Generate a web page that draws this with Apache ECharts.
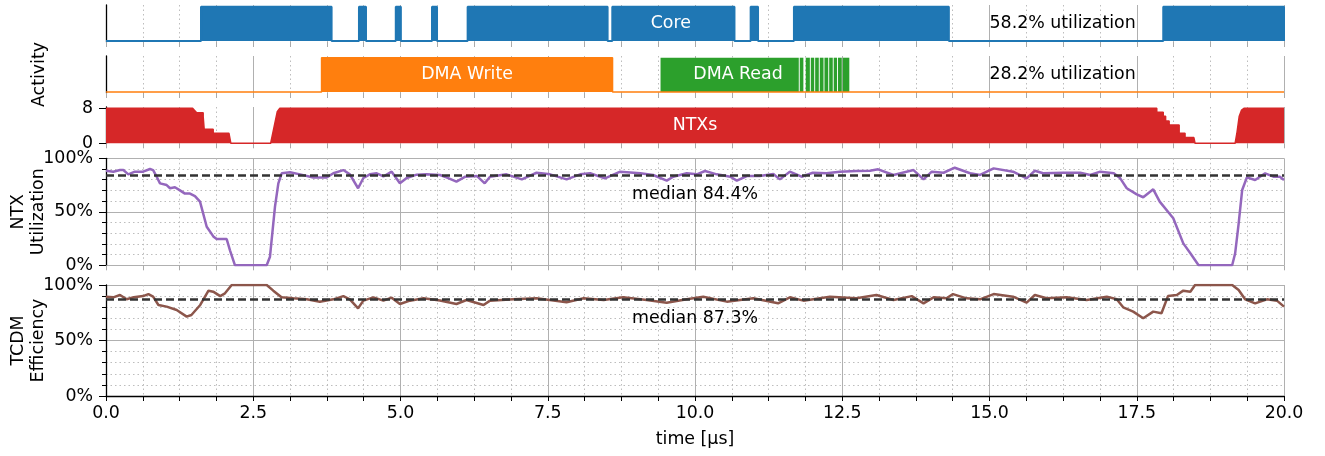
<!DOCTYPE html>
<html>
<head>
<meta charset="utf-8">
<title>Cluster activity</title>
<script src="https://cdn.jsdelivr.net/npm/echarts@6/dist/echarts.min.js"></script>
<style>
    html, body { margin: 0; padding: 0; background: #fff; }
    #chart { width: 1325px; height: 456px; }
</style>
</head>
<body>
<div id="chart"></div>
<script>
// busy intervals [start, end] in µs
const coreIntervals = [[1.613, 3.83], [4.295, 4.414], [4.92, 5.006], [5.535, 5.62], [6.14, 8.516],
    [8.596, 10.67], [10.945, 11.07], [11.68, 14.31], [17.95, 20]]
const dmaWriteIntervals = [[3.66, 8.60]]
const dmaReadIntervals = [[9.415, 11.762], [11.778, 11.84], [11.88, 11.95], [11.966, 12.024], [12.04, 12.102],
    [12.118, 12.182], [12.198, 12.262], [12.278, 12.339], [12.355, 12.412], [12.428, 12.492], [12.508, 12.62]]

// number of active NTXs
const ntxTime = [0, 1.47, 1.54, 1.65, 1.65, 1.667, 1.667, 1.82, 1.82, 2.087, 2.12, 2.795, 2.907, 2.952,
    17.84, 17.84, 17.95, 17.95, 17.99, 17.99, 18.05, 18.05, 18.22, 18.22, 18.32, 18.32, 18.47, 18.49,
    19.17, 19.2, 19.24, 19.28, 19.32, 20]
const ntxCount = [8, 8, 7, 7, 6.1, 6.1, 3.2, 3.2, 2.3, 2.3, 0, 0, 7.2, 8,
    8, 7.1, 7.1, 6.2, 6.2, 5.1, 5.1, 4.2, 4.2, 2.3, 2.3, 1.3, 1.3, 0,
    0, 2.3, 6.2, 7.6, 8, 8]
const ntxTicks = [0, 8]

// NTX utilization [%]
const utilTime = [0, 0.124, 0.238, 0.294, 0.379, 0.49, 0.63, 0.747, 0.80, 0.86, 0.917, 1.03, 1.087, 1.17,
    1.256, 1.34, 1.426, 1.51, 1.596, 1.71, 1.822, 1.879, 2.049, 2.105, 2.19, 2.728, 2.784, 2.869, 2.926,
    2.983, 3.124, 3.294, 3.52, 3.747, 3.86, 4.03, 4.14, 4.28, 4.37, 4.48, 4.596, 4.71, 4.85, 4.99, 5.105,
    5.275, 5.44, 5.67, 5.78, 5.95, 6.1, 6.3, 6.43, 6.52, 6.8, 7.06, 7.31, 7.54, 7.82, 8.05, 8.22, 8.47,
    8.73, 9.07, 9.29, 9.52, 9.63, 9.86, 10.03, 10.17, 10.37, 10.6, 10.71, 10.88, 11.1, 11.33, 11.44,
    11.61, 11.81, 12.0, 12.23, 12.46, 12.74, 12.97, 13.11, 13.37, 13.71, 13.88, 14.02, 14.22, 14.41,
    14.67, 14.84, 15.07, 15.4, 15.63, 15.77, 15.91, 16.25, 16.54, 16.71, 16.88, 17.11, 17.22, 17.33,
    17.5, 17.61, 17.78, 17.89, 18.12, 18.29, 18.41, 18.55, 19.12, 19.17, 19.23, 19.29, 19.37, 19.51,
    19.68, 19.82, 19.93, 20.0]
const utilPct = [88.4, 87.5, 89, 89, 85, 87.5, 87.5, 90, 89, 82.8, 76.6, 75, 72, 73,
    70, 67, 67, 64.7, 59.5, 36, 27, 24.5, 24.5, 14, 0, 0, 8, 54.8, 76.6,
    86, 87, 85, 82, 82, 86, 89, 85, 72, 81.6, 85, 86, 83, 87.5, 76.6, 81.6,
    84.7, 85, 84.4, 82.2, 78.2, 82.8, 83.4, 76.6, 82.8, 85, 80.3, 86.5, 85, 80.3, 85, 86, 81.3,
    87.5, 86, 84.4, 79.1, 82.8, 86, 85, 88.1, 85, 82.8, 79.1, 83.4, 83.4, 85.3, 80.3,
    87.5, 82.8, 86.5, 86, 87.5, 88.1, 88.4, 89.7, 84.4, 89, 80.3, 87.5, 86.5, 91.2,
    86, 84.4, 90.6, 87.5, 81.3, 88.4, 86, 86.5, 86.5, 84.4, 87.5, 86, 81.3, 72,
    66.3, 63.6, 71, 59.5, 44, 20.5, 11.2, 0, 0, 11, 39, 70.4, 82.2, 79.7,
    86, 82.8, 82.8, 79.7]

// TCDM efficiency [%]
const effTime = [0, 0.124, 0.238, 0.35, 0.47, 0.63, 0.72, 0.80, 0.89, 1.03, 1.2, 1.37, 1.45, 1.6, 1.74,
    1.82, 1.94, 2.02, 2.134, 2.728, 2.84, 2.98, 3.18, 3.41, 3.63, 3.86, 4.03, 4.14, 4.28, 4.37, 4.54,
    4.71, 4.85, 4.99, 5.16, 5.39, 5.67, 5.95, 6.12, 6.41, 6.52, 6.92, 7.31, 7.82, 8.11, 8.45, 8.78,
    9.18, 9.52, 9.86, 10.14, 10.54, 10.99, 11.41, 11.61, 11.84, 12.29, 12.74, 13.08, 13.37, 13.68,
    13.88, 14.05, 14.27, 14.38, 14.61, 14.84, 15.07, 15.4, 15.63, 15.77, 15.97, 16.31, 16.65, 16.99,
    17.16, 17.27, 17.44, 17.61, 17.78, 17.92, 18.03, 18.18, 18.29, 18.41, 18.49, 19.12, 19.23, 19.34,
    19.51, 19.71, 19.88, 20.0]
const effPct = [89.5, 88.9, 91, 87.1, 88.9, 90, 91.8, 89.5, 82, 80.5, 77.5, 71.5, 73, 82, 94.9,
    94, 90, 92.5, 100, 100, 94.9, 88.9, 88, 87.1, 85, 87.1, 90, 87.1, 79, 85.9, 88.9,
    85.9, 88.6, 82.9, 85.9, 88, 86, 82.9, 86.5, 82, 85.9, 87.1, 88, 84.4, 88, 86.5, 88.9,
    86.5, 84.1, 87.1, 89.5, 85, 88, 83.5, 88.9, 85.9, 89.5, 88, 91, 86.5, 90,
    83.5, 88.9, 88, 91.8, 88, 87.1, 91.8, 89.5, 84.1, 91, 88, 88.9, 86.5, 89.5,
    87.1, 79.9, 76, 70, 76, 74.5, 90, 91, 94.9, 94, 100, 100, 95.5, 87.1,
    83.5, 87.1, 85.9, 80.5]

const medianUtil = 84.4
const medianEff = 87.3
const coreUtilText = '58.2% utilization'
const dmaUtilText = '28.2% utilization'

const FONT = 'DejaVu Sans'
const FS = 17.4
const GRID = '#b0b0b0'
const MINOR = '#bdbdbd'

// turn busy intervals into a 0/1 outline
function toSteps(intervals) {
    const pts = [[0, 0]]
    intervals.forEach(([a, b]) => {
        pts.push([a, 0], [a, 1], [b, 1], [b, 0])
    })
    pts.push([20, 0])
    return pts
}
const zip = (xs, ys) => xs.map((x, i) => [x, ys[i]])

function textMark(x, y, text, color, left) {
    return {
        coord: [x, y],
        symbol: 'rect',
        symbolSize: 0,
        label: {
            show: true,
            position: left ? 'right' : 'inside',
            distance: 0,
            formatter: text,
            color: color,
            fontSize: FS,
            fontFamily: FONT
        }
    }
}

const grids = [
    {top: 5, height: 37},
    {top: 56, height: 37},
    {top: 107, height: 36.3},
    {top: 158.3, height: 107},
    {top: 285, height: 111}
].map(g => ({left: 106, right: 41, top: g.top, height: g.height, outerBoundsMode: 'none', containLabel: false}))

const xAxes = grids.map((g, i) => {
    const last = i === 4
    return {
        gridIndex: i,
        type: 'value',
        min: 0,
        max: 20,
        interval: 2.5,
        name: last ? 'time [µs]' : '',
        nameLocation: 'middle',
        nameGap: 35,
        nameMoveOverlap: false,
        nameTextStyle: {fontFamily: FONT, fontSize: FS, color: '#000'},
        axisLine: {show: last, onZero: false, lineStyle: {color: '#000', width: 1.3}},
        axisTick: {show: true, length: 5, lineStyle: {color: last ? '#000' : '#aaa', width: 1}},
        minorTick: {show: true, splitNumber: 4, length: 5, lineStyle: {color: last ? '#000' : '#aaa', width: 1}},
        axisLabel: {
            show: last, margin: 9, color: '#000', fontFamily: FONT, fontSize: FS,
            formatter: v => v.toFixed(1)
        },
        splitLine: {show: true, lineStyle: {color: GRID, width: 1}},
        minorSplitLine: {show: true, lineStyle: {color: MINOR, width: 1, type: [1.5, 3]}}
    }
})

const pctAxis = (i, name) => ({
    gridIndex: i,
    type: 'value',
    min: 0,
    max: 100,
    interval: 50,
    name: name,
    nameLocation: 'middle',
    nameGap: 58,
    nameMoveOverlap: false,
    nameTextStyle: {fontFamily: FONT, fontSize: FS, color: '#000', lineHeight: 20},
    axisLine: {show: true, lineStyle: {color: '#000', width: 1.3}},
    axisTick: {show: true, length: 7, lineStyle: {color: '#000'}},
    minorTick: {show: true, splitNumber: 5, length: 4, lineStyle: {color: '#000'}},
    axisLabel: {margin: 13, color: '#000', fontFamily: FONT, fontSize: FS, formatter: '{value}%'},
    splitLine: {show: true, lineStyle: {color: GRID, width: 1}},
    minorSplitLine: {show: true, lineStyle: {color: MINOR, width: 1, type: [1.5, 3]}}
})

const yAxes = [
    {
        gridIndex: 0, type: 'value', min: -0.03, max: 1.05,
        axisLine: {show: true, lineStyle: {color: '#000', width: 1.3}},
        axisTick: {show: false}, axisLabel: {show: false}, splitLine: {show: false}
    },
    {
        gridIndex: 1, type: 'value', min: -0.03, max: 1.05,
        name: 'Activity', nameLocation: 'middle', nameGap: 58, nameMoveOverlap: false,
        nameTextStyle: {fontFamily: FONT, fontSize: FS, color: '#000'},
        axisLine: {show: true, lineStyle: {color: '#000', width: 1.3}},
        axisTick: {show: false}, axisLabel: {show: false}, splitLine: {show: false}
    },
    {
        gridIndex: 2, type: 'value', min: 0, max: 8.3,
        axisLine: {show: true, lineStyle: {color: '#000', width: 1.3}},
        axisTick: {show: true, length: 7, customValues: ntxTicks, lineStyle: {color: '#000'}},
        axisLabel: {margin: 13, color: '#000', fontFamily: FONT, fontSize: FS, customValues: ntxTicks},
        splitLine: {show: false}
    },
    pctAxis(3, 'NTX\nUtilization'),
    pctAxis(4, 'TCDM\nEfficiency')
]

const medianLine = (value, text) => ({
    silent: true,
    symbol: 'none',
    animation: false,
    lineStyle: {type: [8, 4], color: '#333', width: 2.5},
    label: {
        show: true, position: 'insideMiddleBottom', distance: 11,
        formatter: text, color: '#000', fontFamily: FONT, fontSize: FS
    },
    emphasis: {disabled: true},
    data: [{yAxis: value}]
})

const option = {
    animation: false,
    backgroundColor: '#fff',
    textStyle: {fontFamily: FONT},
    grid: grids,
    xAxis: xAxes,
    yAxis: yAxes,
    series: [
        {
            name: 'Core', type: 'line', xAxisIndex: 0, yAxisIndex: 0,
            data: toSteps(coreIntervals), showSymbol: false,
            lineStyle: {color: '#1f77b4', width: 2},
            areaStyle: {color: '#1f77b4', opacity: 1, origin: 0},
            markPoint: {
                silent: true,
                data: [textMark(9.59, 0.5, 'Core', '#fff', false), textMark(15, 0.5, coreUtilText, '#000', true)]
            }
        },
        {
            // read bursts as rectangles so the thin gaps stay crisp
            name: 'DMA Read', type: 'line', xAxisIndex: 1, yAxisIndex: 1,
            data: [[dmaReadIntervals[0][0], 0], [dmaReadIntervals[dmaReadIntervals.length - 1][1], 0]],
            showSymbol: false,
            lineStyle: {width: 0},
            markArea: {
                silent: true,
                itemStyle: {color: '#2ca02c', opacity: 1},
                data: dmaReadIntervals.map(([a, b]) => [{coord: [a, 0]}, {coord: [b, 1]}])
            },
            markPoint: {silent: true, data: [textMark(10.73, 0.5, 'DMA Read', '#fff', false)]}
        },
        {
            name: 'DMA Write', type: 'line', xAxisIndex: 1, yAxisIndex: 1,
            data: toSteps(dmaWriteIntervals), showSymbol: false,
            lineStyle: {color: '#ff7f0e', width: 1.5},
            areaStyle: {color: '#ff7f0e', opacity: 1, origin: 0},
            markPoint: {
                silent: true,
                data: [textMark(6.13, 0.5, 'DMA Write', '#fff', false), textMark(15, 0.5, dmaUtilText, '#000', true)]
            }
        },
        {
            name: 'NTXs', type: 'line', xAxisIndex: 2, yAxisIndex: 2,
            data: zip(ntxTime, ntxCount), showSymbol: false,
            lineStyle: {color: '#d62728', width: 1.5},
            areaStyle: {color: '#d62728', opacity: 1, origin: 0},
            markPoint: {silent: true, data: [textMark(10, 4.1, 'NTXs', '#fff', false)]}
        },
        {
            name: 'NTX Utilization', type: 'line', xAxisIndex: 3, yAxisIndex: 3,
            data: zip(utilTime, utilPct), showSymbol: false,
            lineStyle: {color: '#9467bd', width: 2.5},
            markLine: medianLine(medianUtil, 'median ' + medianUtil + '%')
        },
        {
            name: 'TCDM Efficiency', type: 'line', xAxisIndex: 4, yAxisIndex: 4,
            data: zip(effTime, effPct), showSymbol: false,
            lineStyle: {color: '#8c564b', width: 2.5},
            markLine: medianLine(medianEff, 'median ' + medianEff + '%')
        }
    ]
}

const chart = echarts.init(document.getElementById('chart'), null, {renderer: 'canvas'})
chart.setOption(option)
</script>
</body>
</html>
